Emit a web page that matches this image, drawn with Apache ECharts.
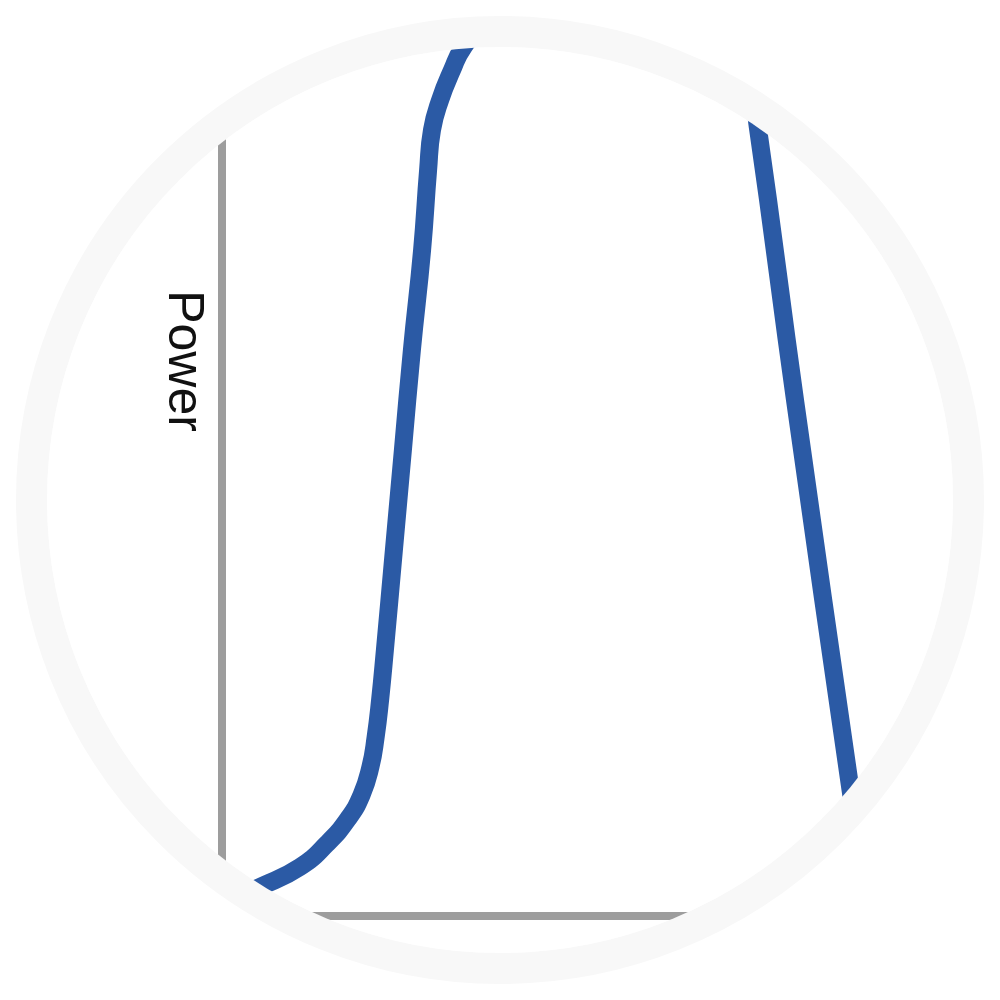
<!DOCTYPE html>
<html>
<head>
<meta charset="utf-8">
<style>
html,body{margin:0;padding:0;background:#ffffff;}
#wrap{position:relative;width:1000px;height:1000px;overflow:hidden;}
#ring{position:absolute;left:16px;top:16px;width:968px;height:968px;box-sizing:border-box;border-radius:50%;border:31px solid #f8f8f8;}
#chart{position:absolute;left:0;top:0;width:1000px;height:1000px;clip-path:circle(453px at 500px 500px);}
</style>
<script src="https://cdn.jsdelivr.net/npm/echarts@6/dist/echarts.min.js"></script>
</head>
<body>
<div id="wrap">
  <div id="ring"></div>
  <div id="chart"></div>
</div>
<script>
// Power curve (wind speed units on x, power units on y)
var windSpeed = [0.27, 1.27, 2.6, 3.5, 4.2, 4.65, 4.95, 5.12, 5.27, 5.43, 5.73, 6.03, 6.33, 6.67, 6.87, 7.0, 7.27, 7.67, 8.03, 8.6, 9.6, 12.6, 17.25, 17.86, 19.1, 21.0, 21.57];
var power     = [1.75, 3.17, 5.35, 7.9, 10.6, 13.2, 16.3, 19.5, 23.58, 29.04, 39.96, 50.87, 61.79, 72.71, 81.44, 85.81, 89.08, 92.36, 94.76, 96.72, 98.03, 98.47, 98.47, 86.14, 56.33, 12.66, 0];
var axisName = 'Power';

var seriesData = windSpeed.map(function (x, i) { return [x, power[i]]; });

var chart = echarts.init(document.getElementById('chart'), null, {renderer: 'canvas'});
chart.setOption({
  backgroundColor: '#ffffff',
  animation: false,
  grid: {left: 222, right: 28, top: 0, bottom: 84, containLabel: false},
  xAxis: {
    type: 'value', min: 0, max: 25,
    axisLine: {show: true, lineStyle: {color: '#9d9d9d', width: 8}},
    axisTick: {show: false}, axisLabel: {show: false}, splitLine: {show: false}
  },
  yAxis: {
    type: 'value', min: 0, max: 100,
    name: axisName, nameLocation: 'middle', nameRotate: -90, nameGap: 14,
    nameTextStyle: {fontFamily: 'Liberation Sans', fontSize: 50, color: '#111111', padding: [0, 194, 0, 0]},
    axisLine: {show: true, lineStyle: {color: '#9d9d9d', width: 8}},
    axisTick: {show: false}, axisLabel: {show: false}, splitLine: {show: false}
  },
  series: [{
    type: 'line',
    data: seriesData,
    smooth: 0.5,
    showSymbol: false,
    clip: false,
    lineStyle: {color: '#2b5aa5', width: 18, cap: 'butt', join: 'round'}
  }]
});
</script>
</body>
</html>
